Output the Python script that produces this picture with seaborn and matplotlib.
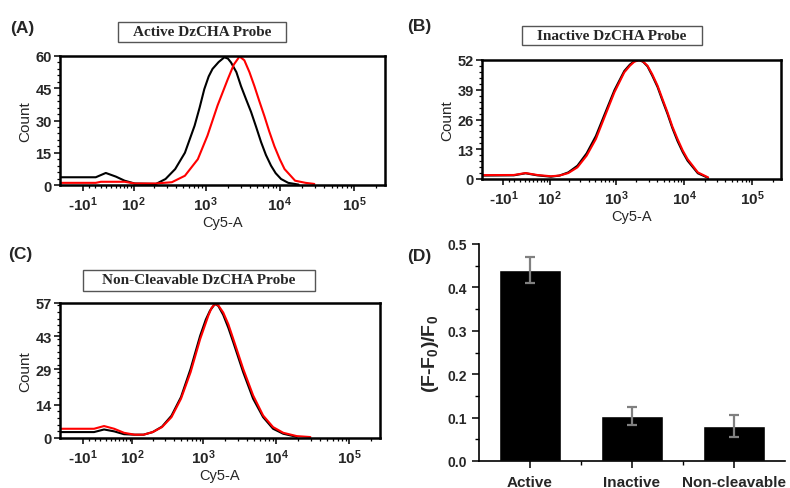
import numpy as np
import matplotlib
matplotlib.use("Agg")
import matplotlib.pyplot as plt
import matplotlib.patches as mpatches
from matplotlib.ticker import FixedLocator, AutoMinorLocator, MultipleLocator
import seaborn as sns

sns.set_theme(style="ticks")
plt.rcParams["font.family"] = ["Liberation Sans", "DejaVu Sans"]
plt.rcParams["mathtext.fontset"] = "custom"
plt.rcParams["mathtext.rm"] = "Liberation Sans:bold"
plt.rcParams["mathtext.it"] = "Liberation Sans:bold"
plt.rcParams["mathtext.bf"] = "Liberation Sans:bold"
plt.rcParams["mathtext.default"] = "rm"

# ---- data ----
# panel A : active probe
a_black_x = [-55, 11, 29, 50, 72, 104, 211, 286, 387, 525, 710, 830, 960, 1100, 1240,
             1500, 1790, 2000, 2200, 2600, 3000, 3500, 4100, 4800, 5590, 6500, 7620,
             8800, 10400, 13000, 17900]
a_black_y = [3.6, 3.6, 5.6, 3.9, 2.0, 0.7, 0.5, 2.8, 7.4, 15, 27.6, 36, 44.6, 50.5, 54,
             57.2, 59.4, 58.8, 57, 52.5, 46, 40, 34, 27, 20, 14, 9,
             5.5, 2.8, 1, 0.2]
a_red_x = [-55, 11, 20, 72, 104, 211, 349, 525, 785, 1060, 1450, 1980, 2400, 2870,
           3330, 3900, 4550, 5300, 6210, 7200, 8470, 10000, 11600, 16100, 22300, 29200]
a_red_y = [1.0, 1.0, 1.5, 1.5, 0.7, 0.7, 1.3, 4.3, 12, 23, 37, 49, 56, 59.8,
           58, 52.5, 46, 39, 32, 25, 18, 12, 7.4, 2, 1, 0.5]

# panel B : inactive probe
b_x = [-55, 9, 32, 60, 105, 144, 197, 270, 370, 507, 693, 949, 1324, 1600, 1850, 2190,
       2500, 2900, 3400, 4070, 4800, 5700, 6700, 7980, 9500, 11200, 15850, 22400]
b_red_y = [1.7, 1.75, 2.6, 1.75, 1.2, 1.5, 2.6, 5.1, 10.2, 17.5, 27.7, 37.9, 46.6,
           49.5, 51.2, 52, 51.3, 49.5, 45.8, 40.8, 35, 29.1, 23, 17.5, 12.5, 8.7, 2.9, 0.7]
b_black_y = [1.5, 1.6, 2.5, 1.6, 1.0, 1.5, 2.9, 5.8, 11.2, 18.8, 28.8, 38.8, 47.2,
             50, 51.5, 52, 51.2, 49.2, 45.2, 40.2, 34.3, 28.4, 22.3, 16.6, 11.8, 8.0, 2.5,
             0.5]

# panel C : non-cleavable probe
c_red_x = [-55, 9, 27, 48, 73, 108, 147, 199, 269, 364, 493, 668, 904, 1170, 1300, 1440,
           1600, 1870, 2200, 2570, 3510, 4800, 6580, 9010, 12400, 19000, 29200]
c_red_y = [3.9, 3.9, 5.05, 3.9, 2.2, 1.4, 1.4, 2.5, 4.6, 8.8, 16.6, 27.8, 41.8,
           51.7, 55, 56.6, 56, 53, 48, 41.8, 29.2, 18, 9.5, 4.6, 2.2, 0.8, 0.4]
c_black_x = [-55, 9, 27, 48, 73, 108, 147, 199, 269, 364, 493, 668, 904, 1080, 1233,
             1440, 1600, 1870, 2200, 2570, 3510, 4800, 6580, 9010, 12400, 19000]
c_black_y = [2.5, 2.5, 3.6, 2.8, 1.6, 1.4, 1.4, 2.5, 4.8, 9.4, 17.3, 29.2, 43.2,
             50, 53.8, 56.6, 55.8, 52, 46.5, 40.4, 27.8, 16.6, 8.8, 3.9, 1.8, 0.5]

# panel D : bars
probes = ["Active", "Inactive", "Non-cleavable"]
ratio = [0.44, 0.103, 0.080]
ratio_err = [0.030, 0.021, 0.025]

x_major = [-10, 100, 1000, 10000, 100000]
x_major_lbl = [r"-$10^{1}$", r"$10^{2}$", r"$10^{3}$", r"$10^{4}$", r"$10^{5}$"]
x_minor = [0, 10, 20, 30, 40, 50, 60, 70, 80, 90] + \
          [m * 10 ** d for d in (2, 3, 4) for m in range(2, 10)] + [200000]

W = 54.0


def fwd(v):
    return np.arcsinh(np.asarray(v, dtype=float) / W) / np.log(10)


def inv(v):
    return W * np.sinh(np.asarray(v, dtype=float) * np.log(10))


fig = plt.figure(figsize=(7.9, 4.89), dpi=100)
FW, FH = 790.0, 489.0


def px_axes(l, t, r, b):
    return fig.add_axes([l / FW, 1 - b / FH, (r - l) / FW, (b - t) / FH])


def hist_panel(ax, curves, ymax, yticks):
    ax.set_xscale("function", functions=(fwd, inv))
    for xs, ys, col in curves:
        sns.lineplot(x=xs, y=ys, color=col, lw=1.5, ax=ax, estimator=None, sort=False)
    ax.set_xlim(-56, 262144)
    ax.set_ylim(0, ymax)
    ax.xaxis.set_major_locator(FixedLocator(x_major))
    ax.xaxis.set_minor_locator(FixedLocator(x_minor))
    ax.set_xticklabels(x_major_lbl)
    ax.set_yticks(yticks)
    ax.yaxis.set_minor_locator(AutoMinorLocator(5))
    for s in ax.spines.values():
        s.set_visible(True)
        s.set_linewidth(1.8)
        s.set_color("black")
    ax.tick_params(axis="both", which="major", direction="out", length=4, width=1.1,
                   color="black", pad=2)
    ax.tick_params(axis="both", which="minor", direction="out", length=2.2, width=0.9,
                   color="black")
    ax.tick_params(axis="x", which="major", labelsize=11, pad=3)
    ax.tick_params(axis="y", which="major", labelsize=10.5)
    for t in ax.get_yticklabels() + ax.get_xticklabels():
        t.set_fontweight("bold")
    ax.set_ylabel("Count", fontsize=11, labelpad=2)
    ax.set_xlabel("Cy5-A", fontsize=10.5, labelpad=1)


def title_box(cx, cy, w, h, text):
    fig.patches.append(mpatches.Rectangle(((cx - w / 2) / FW, 1 - (cy + h / 2) / FH),
                                          w / FW, h / FH, transform=fig.transFigure,
                                          fc="white", ec="#555555", lw=1.0))
    fig.text(cx / FW, 1 - cy / FH, text, ha="center", va="center",
             family="Liberation Serif", fontweight="bold", fontsize=11)


axA = px_axes(60, 57, 385, 186)
hist_panel(axA, [(a_black_x, a_black_y, "black"), (a_red_x, a_red_y, "red")],
           60, [0, 15, 30, 45, 60])
axB = px_axes(482, 61, 781, 180)
hist_panel(axB, [(b_x, b_black_y, "black"), (b_x, b_red_y, "red")],
           52, [0, 13, 26, 39, 52])
axC = px_axes(60, 304, 380, 439)
hist_panel(axC, [(c_black_x, c_black_y, "black"), (c_red_x, c_red_y, "red")],
           57, [0, 14, 29, 43, 57])

title_box(202, 33, 168, 20, "Active DzCHA Probe")
title_box(612, 36, 180, 19, "Inactive DzCHA Probe")
title_box(199, 281, 232, 21, "Non-Cleavable DzCHA Probe")

# panel D
axD = px_axes(479, 245, 785, 462)
sns.barplot(x=probes, y=ratio, color="black", width=0.61, ax=axD, saturation=1)
axD.errorbar(range(len(probes)), ratio, yerr=ratio_err, fmt="none", ecolor="#808080",
             elinewidth=1.6, capsize=3.5, capthick=1.6)
axD.set_xlim(-0.5, 2.5)
axD.set_ylim(0, 0.5)
axD.yaxis.set_major_locator(MultipleLocator(0.1))
axD.yaxis.set_minor_locator(MultipleLocator(0.05))
axD.xaxis.set_minor_locator(FixedLocator([0.5, 1.5]))
axD.yaxis.set_major_formatter(matplotlib.ticker.FormatStrFormatter("%.1f"))
sns.despine(ax=axD)
for s in ("left", "bottom"):
    axD.spines[s].set_linewidth(1.2)
    axD.spines[s].set_color("black")
axD.tick_params(axis="both", which="major", direction="out", length=5, width=1.1,
                color="black")
axD.tick_params(axis="both", which="minor", direction="out", length=3, width=1.0,
                color="black")
axD.tick_params(axis="y", labelsize=10)
axD.tick_params(axis="x", labelsize=11, pad=5)
for t in axD.get_yticklabels() + axD.get_xticklabels():
    t.set_fontweight("bold")
axD.set_ylabel(r"(F-F$_0$)/F$_0$", fontsize=14, fontweight="bold", labelpad=5)

for lbl, x, y in [("(A)", 10, 28), ("(B)", 407, 26), ("(C)", 8, 255), ("(D)", 407, 257)]:
    fig.text(x / FW, 1 - y / FH, lbl, ha="left", va="center", fontsize=12.5,
             fontweight="bold")

fig.savefig("out.png", dpi=100)
